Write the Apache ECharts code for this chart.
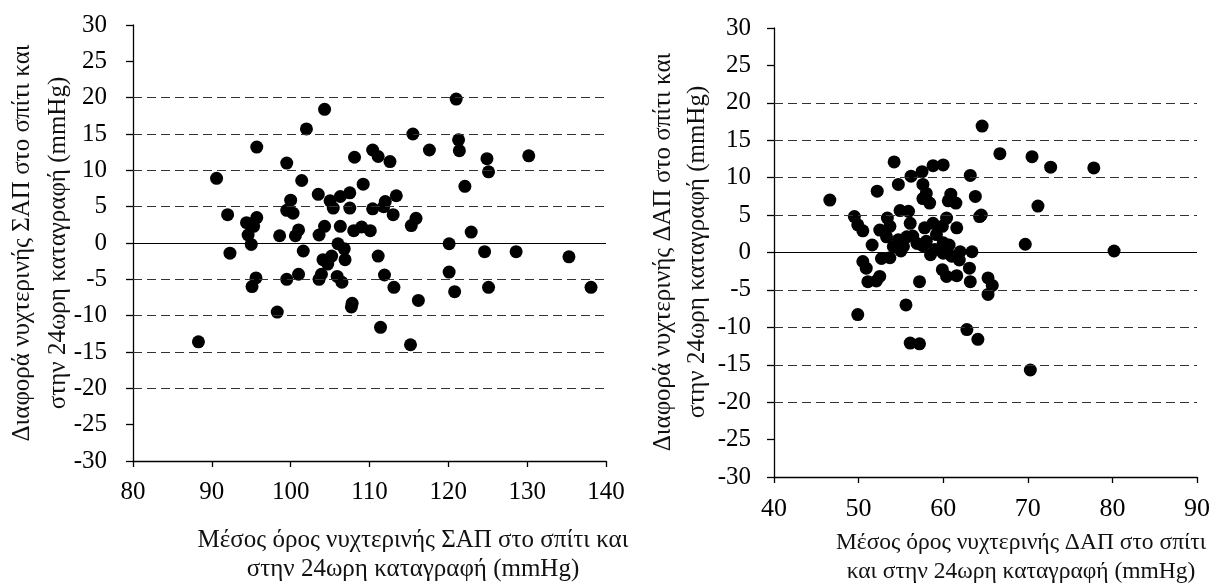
<!DOCTYPE html>
<html>
<head>
<meta charset="utf-8">
<script src="https://cdn.jsdelivr.net/npm/echarts@6/dist/echarts.min.js"></script>
<style>
  html, body { margin: 0; padding: 0; background: #fff; }
  #mapDiv { width: 1213px; height: 583px; }
</style>
</head>
<body>
<div id="mapDiv"></div>
<script>
// αριστερό διάγραμμα: ΣΑΠ
var sapMean = [104.3, 102.0, 95.7, 99.5, 108.1, 110.4, 111.1, 112.6, 90.6, 101.4, 109.2, 103.5, 105.0, 106.3, 107.5,
    105.4, 107.5, 110.4, 112.0, 113.4, 113.0, 111.8, 100.0, 99.5, 100.3, 92.0, 94.4, 95.7, 95.3, 94.6, 95.0, 92.3,
    98.6, 101.0, 100.6, 104.3, 103.6, 106.3, 108.0, 109.0, 110.1, 101.6, 106.0, 106.8, 104.1, 105.2, 104.7, 106.9,
    111.1, 111.9, 113.1, 95.6, 95.1, 99.5, 101.0, 103.6, 103.9, 105.9, 106.5, 107.8, 107.7, 98.3, 111.4, 88.3,
    121.0, 115.5, 121.3, 117.6, 121.4, 124.9, 130.2, 125.1, 122.1, 115.9, 115.3, 122.9, 120.1, 124.6, 128.6, 135.3,
    120.1, 120.8, 125.1, 138.1, 116.2, 115.2];
var sapDiff = [18.4, 15.7, 13.2, 11.0, 11.8, 12.8, 11.9, 11.2, 8.9, 8.6, 8.1, 6.7, 5.8, 6.4, 6.9,
    4.8, 4.8, 4.7, 5.7, 6.5, 3.9, 5.0, 5.9, 4.5, 4.1, 3.9, 2.8, 3.5, 2.3, 1.1, -0.2, -1.4,
    1.0, 1.8, 1.0, 2.3, 1.1, 2.3, 1.7, 2.2, 1.7, -1.1, -0.1, -0.8, -2.3, -1.8, -2.9, -2.3,
    -1.8, -4.4, -6.1, -4.8, -6.0, -5.0, -4.3, -5.0, -4.3, -4.6, -5.4, -8.3, -8.8, -9.5, -11.6, -13.6,
    19.8, 15.0, 14.2, 12.8, 12.7, 11.6, 12.0, 9.8, 7.8, 3.4, 2.4, 1.5, -0.1, -1.2, -1.2, -1.9,
    -4.0, -6.7, -6.1, -6.1, -7.9, -14.0];

// δεξί διάγραμμα: ΔΑΠ
var dapMean = [54.2, 52.2, 46.6, 54.7, 56.2, 57.5, 58.8, 60.0, 63.2, 57.6, 58.0, 57.6, 58.4, 60.9, 60.6, 61.5,
    63.8, 64.3, 49.5, 49.9, 50.5, 53.4, 53.7, 52.5, 54.9, 55.9, 56.1, 60.4, 61.6, 59.9, 57.8, 58.8,
    51.6, 53.3, 54.7, 55.7, 56.4, 54.1, 55.3, 57.6, 58.0, 59.2, 59.0, 60.0, 60.7, 60.0, 62.0, 63.4,
    61.9, 50.5, 50.9, 52.7, 53.7, 51.1, 52.5, 52.1, 57.2, 59.9, 60.4, 61.6, 63.1, 63.2, 55.6, 49.9,
    62.8, 64.1, 56.1, 57.2, 64.6, 66.7, 70.5, 72.7, 77.8, 71.2, 64.5, 69.7, 80.2, 65.3, 65.8, 65.3, 70.3,
    55.0, 56.9, 58.5, 61.0];
var dapDiff = [12.1, 8.2, 7.0, 9.1, 10.2, 10.8, 11.6, 11.7, 10.3, 9.1, 7.9, 7.2, 6.6, 7.8, 6.9, 6.6,
    7.5, 4.8, 4.8, 3.7, 2.9, 4.6, 3.5, 3.0, 5.6, 5.5, 3.9, 4.6, 3.3, 3.5, 3.3, 3.9,
    1.0, 2.1, 1.7, 2.1, 2.2, 0.8, 0.8, 0.9, 1.5, 2.4, 0.4, 1.3, 1.0, -0.1, 0.1, 0.1,
    -1.0, -1.2, -2.1, -0.8, -0.7, -3.9, -3.2, -3.8, -3.9, -2.3, -3.2, -3.1, -2.1, -3.9, -7.0, -8.3,
    -10.3, -11.6, -12.1, -12.2, 16.9, 13.2, 12.8, 11.4, 11.3, 6.2, 5.0, 1.1, 0.2, -3.4, -4.4, -5.6, -15.7,
    0.2, 1.2, -0.3, -0.5];

var dashedLevels = [-20, -15, -10, -5, 5, 10, 15, 20];

var yTitleSap = 'Διαφορά νυχτερινής ΣΑΠ στο σπίτι και\nστην 24ωρη καταγραφή (mmHg)';
var yTitleDap = 'Διαφορά νυχτερινής ΔΑΠ στο σπίτι και\nστην 24ωρη καταγραφή (mmHg)';
var xTitleSap = 'Μέσος όρος νυχτερινής ΣΑΠ στο σπίτι και\nστην 24ωρη καταγραφή (mmHg)';
var xTitleDap = 'Μέσος όρος νυχτερινής ΔΑΠ στο σπίτι\nκαι στην 24ωρη καταγραφή (mmHg)';

var FONT = 'Liberation Serif';

function pairs(xs, ys) {
    var out = [];
    for (var i = 0; i < xs.length; i++) {
        out.push([xs[i], ys[i]]);
    }
    return out;
}

function refLines() {
    var d = dashedLevels.map(function (v) { return { yAxis: v }; });
    d.push({ yAxis: 0, lineStyle: { type: 'solid', color: '#000', width: 1 } });
    return d;
}

function xAxisOf(idx, min, max, size) {
    return {
        type: 'value', gridIndex: idx, min: min, max: max, interval: 10,
        axisLine: { show: true, onZero: false, lineStyle: { color: '#000', width: 1.3 } },
        axisTick: { show: true, length: 6, lineStyle: { color: '#000', width: 1.3 } },
        axisLabel: { color: '#000', fontFamily: FONT, fontSize: size, margin: 19 },
        splitLine: { show: false }
    };
}

function yAxisOf(idx, gap) {
    return {
        type: 'value', gridIndex: idx, min: -30, max: 30, interval: 5,
        axisLine: { show: true, lineStyle: { color: '#000', width: 1.3 } },
        axisTick: { show: true, length: 7, lineStyle: { color: '#000', width: 1.3 } },
        axisLabel: { color: '#000', fontFamily: FONT, fontSize: 25, margin: gap },
        splitLine: { show: false }
    };
}

function scatterOf(idx, data) {
    return {
        type: 'scatter', xAxisIndex: idx, yAxisIndex: idx, z: 3,
        symbol: 'circle', symbolSize: 13,
        itemStyle: { color: '#000', opacity: 1 },
        data: data
    };
}

function linesOf(idx) {
    return {
        type: 'scatter', xAxisIndex: idx, yAxisIndex: idx, z: 1, data: [],
        markLine: {
            silent: true, symbol: ['none', 'none'], label: { show: false },
            animation: false,
            lineStyle: { type: [9, 5], color: '#333', width: 1 },
            data: refLines()
        }
    };
}

function titleText(x, y, text, rot, lh, size) {
    return {
        type: 'text', x: x, y: y, rotation: rot,
        style: {
            text: text, align: 'center', verticalAlign: 'middle',
            fontFamily: FONT, fontSize: size, lineHeight: lh, fill: '#111'
        }
    };
}

var dom = document.getElementById('mapDiv');
var myChart = echarts.init(dom);

var option = {
    animation: false,
    grid: [
        { left: 133, top: 25, width: 473, height: 436, outerBoundsMode: 'none', containLabel: false },
        { left: 774, top: 28, width: 423, height: 449, outerBoundsMode: 'none', containLabel: false }
    ],
    xAxis: [xAxisOf(0, 80, 140, 25), xAxisOf(1, 40, 90, 26)],
    yAxis: [yAxisOf(0, 26), yAxisOf(1, 23)],
    series: [
        linesOf(0),
        linesOf(1),
        scatterOf(0, pairs(sapMean, sapDiff)),
        scatterOf(1, pairs(dapMean, dapDiff))
    ],
    graphic: [
        titleText(40, 243, yTitleSap, Math.PI / 2, 36, 25),
        titleText(680, 252, yTitleDap, Math.PI / 2, 34, 25),
        titleText(413, 555, xTitleSap, 0, 29, 25),
        titleText(1021, 557, xTitleDap, 0, 29, 23.5)
    ]
};

myChart.setOption(option);
</script>
</body>
</html>
